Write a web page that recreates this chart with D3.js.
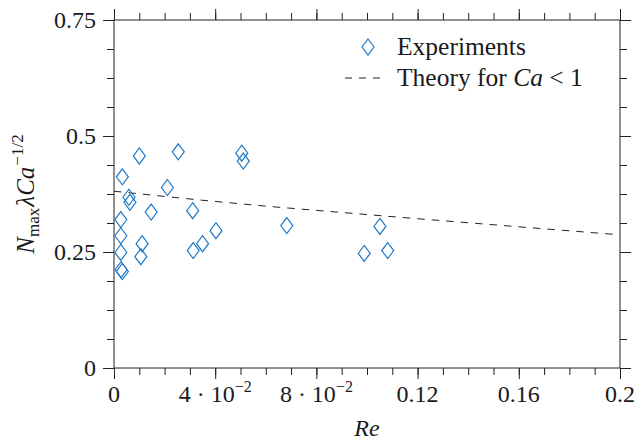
<!DOCTYPE html>
<html>
<head>
<meta charset="utf-8">
<script src="https://cdn.jsdelivr.net/npm/d3@7"></script>
<style>
  body { margin: 0; background: #fff; }
  svg { display: block; }
</style>
</head>
<body>
<svg id="chart" width="635" height="442"></svg>
<script>
// ---- Data ----
const expRe = [0.0033, 0.0100, 0.0254, 0.0505, 0.0511, 0.0211, 0.0059, 0.0063, 0.0147, 0.0311,
               0.0683, 0.1051, 0.0027, 0.0027, 0.0027, 0.0028, 0.0033, 0.0111, 0.0106, 0.0403,
               0.0350, 0.0313, 0.0989, 0.1082];
const expN  = [0.412, 0.457, 0.466, 0.463, 0.446, 0.389, 0.368, 0.357, 0.336, 0.339,
               0.307, 0.305, 0.320, 0.285, 0.249, 0.212, 0.208, 0.268, 0.240, 0.296,
               0.268, 0.253, 0.247, 0.253];
const theoryRe = [0, 0.034, 0.0617, 0.117, 0.2];
const theoryN  = [0.381, 0.362, 0.348, 0.323, 0.287];

const xMajorTicks = [0, 0.04, 0.08, 0.12, 0.16, 0.2];
const xTickLabels = [["0", ""], ["4 · 10", "−2"], ["8 · 10", "−2"], ["0.12", ""], ["0.16", ""], ["0.2", ""]];
const xMinorTicks = d3.range(0, 21).map(i => i * 0.01);
const yMajorTicks = [0, 0.25, 0.5, 0.75];
const yTickLabels = ["0", "0.25", "0.5", "0.75"];
const yMinorTicks = d3.range(0, 13).map(i => i * 0.0625);

const legendLabels = ["Experiments", "Theory for"];

// ---- Layout ----
const W = 635, H = 442;
const FONT = "'Liberation Serif', 'DejaVu Serif', 'Times New Roman', serif";
const m = { left: 114, right: 15, top: 20, bottom: 74 };
const svg = d3.select("#chart").attr("font-family", FONT);
const x = d3.scaleLinear().domain([0, 0.2]).range([m.left, W - m.right]);
const y = d3.scaleLinear().domain([0, 0.75]).range([H - m.bottom, m.top]);

const axisColor = "#222";
const textColor = "#1a1a1a";
const major = 11, minor = 7;

function drawAxis(gen, transform) {
  const g = svg.append("g").attr("transform", transform).call(gen);
  g.select(".domain").remove();
  g.selectAll("text").remove();
  g.selectAll("line").attr("stroke", axisColor).attr("stroke-width", 1);
  return g;
}
const xb = `translate(0,${H - m.bottom})`, xt = `translate(0,${m.top})`;
const yl = `translate(${m.left},0)`, yr = `translate(${W - m.right},0)`;
drawAxis(d3.axisBottom(x).tickValues(xMinorTicks).tickSize(minor), xb);
drawAxis(d3.axisBottom(x).tickValues(xMajorTicks).tickSize(major), xb);
drawAxis(d3.axisTop(x).tickValues(xMinorTicks).tickSize(minor), xt);
drawAxis(d3.axisTop(x).tickValues(xMajorTicks).tickSize(major), xt);
drawAxis(d3.axisLeft(y).tickValues(yMinorTicks).tickSize(minor), yl);
drawAxis(d3.axisLeft(y).tickValues(yMajorTicks).tickSize(major), yl);
drawAxis(d3.axisRight(y).tickValues(yMinorTicks).tickSize(minor), yr);
drawAxis(d3.axisRight(y).tickValues(yMajorTicks).tickSize(major), yr);

// frame
svg.append("rect")
  .attr("x", x(0)).attr("y", y(0.75))
  .attr("width", x(0.2) - x(0)).attr("height", y(0) - y(0.75))
  .attr("fill", "none").attr("stroke", axisColor).attr("stroke-width", 1);

// x tick labels
xMajorTicks.forEach((v, i) => {
  const t = svg.append("text")
    .attr("x", x(v)).attr("y", H - m.bottom + 34)
    .attr("text-anchor", "middle").attr("font-size", 24).attr("fill", textColor);
  t.append("tspan").text(xTickLabels[i][0]);
  if (xTickLabels[i][1]) {
    t.append("tspan").attr("dy", -10).attr("font-size", 16).text(xTickLabels[i][1]);
  }
});
// y tick labels
yMajorTicks.forEach((v, i) => {
  svg.append("text")
    .attr("x", m.left - 18).attr("y", y(v) + 8)
    .attr("text-anchor", "end").attr("font-size", 24).attr("fill", textColor)
    .text(yTickLabels[i]);
});

// axis titles
svg.append("text")
  .attr("x", (x(0) + x(0.2)) / 2).attr("y", 436)
  .attr("text-anchor", "middle").attr("font-size", 24).attr("fill", textColor)
  .attr("font-style", "italic").text("Re");

const yt = svg.append("text")
  .attr("transform", `translate(34,${(y(0) + y(0.75)) / 2}) rotate(-90)`)
  .attr("text-anchor", "middle").attr("font-size", 25).attr("fill", textColor);
yt.append("tspan").attr("font-style", "italic").text("N");
yt.append("tspan").attr("font-size", 17).attr("dy", 5).text("max");
yt.append("tspan").attr("dy", -5).attr("font-style", "italic").attr("dx", 1).text("λCa");
yt.append("tspan").attr("font-size", 17).attr("dy", -11).attr("dx", 1).text("−1/2");

// theory dashed line
const line = d3.line().x((d, i) => x(theoryRe[i])).y(d => y(d));
svg.append("path")
  .datum(theoryN)
  .attr("d", line)
  .attr("fill", "none").attr("stroke", "#222").attr("stroke-width", 1)
  .attr("stroke-dasharray", "7.5,7");

// experiments: diamonds
const blue = "#2079c7";
const diamond = (cx, cy) => `M${cx},${cy - 8}L${cx + 6},${cy}L${cx},${cy + 8}L${cx - 6},${cy}Z`;
svg.append("g").selectAll("path")
  .data(expN)
  .join("path")
  .attr("d", (d, i) => diamond(x(expRe[i]), y(d)))
  .attr("fill", "none").attr("stroke", blue).attr("stroke-width", 1.2);

// legend
svg.append("path").attr("d", diamond(368, 47))
  .attr("fill", "none").attr("stroke", blue).attr("stroke-width", 1.2);
svg.append("text").attr("x", 397).attr("y", 55).attr("font-size", 25.5).attr("fill", textColor).text(legendLabels[0]);
svg.append("line").attr("x1", 345).attr("x2", 384).attr("y1", 78).attr("y2", 78)
  .attr("stroke", "#222").attr("stroke-width", 1).attr("stroke-dasharray", "7,7");
const lt = svg.append("text").attr("x", 397).attr("y", 86).attr("font-size", 25.5).attr("fill", textColor);
lt.append("tspan").text(legendLabels[1] + " ");
lt.append("tspan").attr("font-style", "italic").text("Ca");
lt.append("tspan").text(" < 1");
</script>
</body>
</html>
